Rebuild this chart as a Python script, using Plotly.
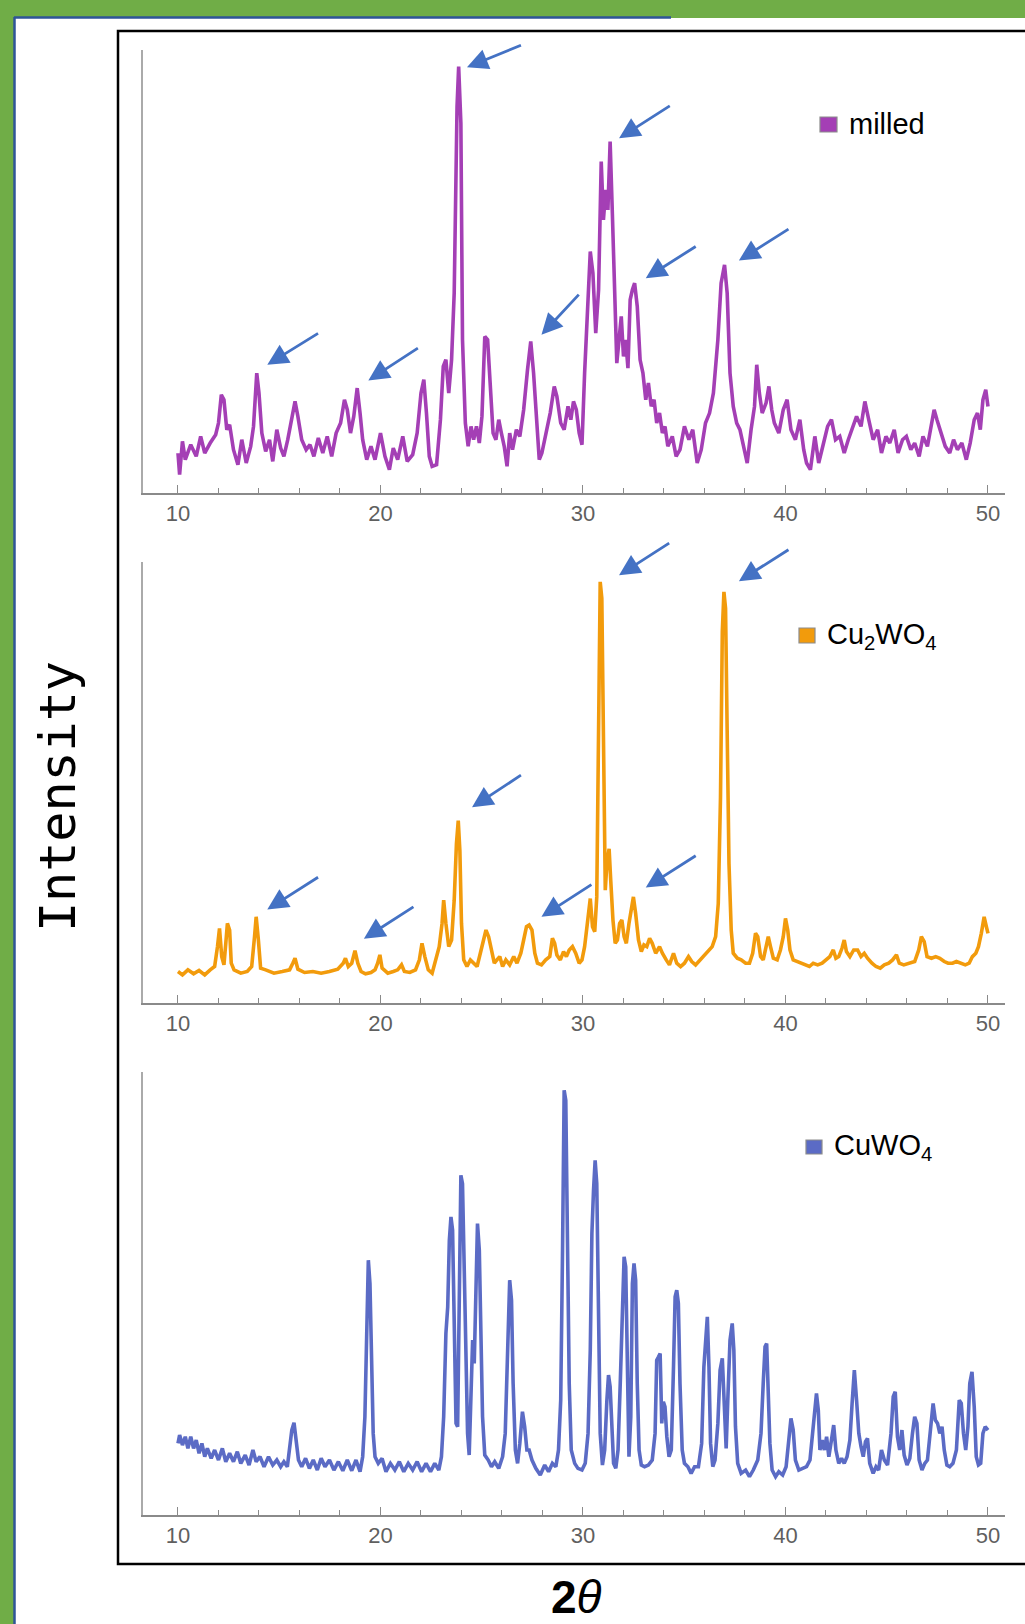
import plotly.graph_objects as go

# ---------------- data (2θ in degrees, intensity in arbitrary units) ----------------
milled_points = [
    (10.00, 12), (10.08, 5.5), (10.22, 15.5), (10.36, 10), (10.63, 14.5), (10.90, 11), (11.12, 17), (11.32, 12),
    (11.59, 15), (11.86, 17.5), (12.00, 21), (12.14, 29.5), (12.27, 28), (12.41, 19), (12.55, 20.5), (12.74, 13),
    (12.96, 8.5), (13.15, 16), (13.37, 9), (13.59, 14), (13.73, 20), (13.89, 36), (14.00, 30), (14.14, 18),
    (14.33, 12.5), (14.52, 16), (14.68, 9.5), (14.88, 19), (15.07, 13.5), (15.23, 11), (15.42, 16), (15.62, 22),
    (15.78, 27.5), (15.92, 23), (16.11, 16), (16.33, 13), (16.52, 14.5), (16.71, 11), (16.93, 16.5), (17.15, 12),
    (17.37, 17), (17.59, 11), (17.81, 18), (18.03, 21), (18.22, 28), (18.36, 25), (18.52, 18), (18.68, 23),
    (18.85, 31.5), (18.99, 24), (19.12, 16), (19.32, 10), (19.53, 14), (19.73, 10), (20.00, 18), (20.22, 11),
    (20.44, 7), (20.63, 13.5), (20.85, 10), (21.10, 17), (21.32, 9.5), (21.59, 11.5), (21.81, 18), (22.00, 30),
    (22.14, 34), (22.27, 24), (22.41, 11), (22.55, 8), (22.77, 8.5), (22.96, 22), (23.10, 38), (23.23, 40),
    (23.37, 30), (23.51, 40), (23.64, 60), (23.78, 116), (23.86, 128), (23.97, 111), (24.05, 46), (24.19, 21),
    (24.33, 14), (24.47, 20), (24.60, 16), (24.74, 20), (24.88, 15), (25.01, 23), (25.15, 47), (25.29, 46),
    (25.42, 31), (25.56, 18), (25.70, 16), (25.84, 22), (25.97, 18), (26.11, 14), (26.25, 8), (26.38, 18),
    (26.52, 13), (26.71, 19), (26.88, 17), (27.07, 25), (27.26, 37), (27.42, 45.5), (27.56, 36), (27.70, 23),
    (27.84, 10), (27.97, 12), (28.16, 18), (28.38, 24), (28.58, 32), (28.71, 29), (28.90, 21), (29.07, 19),
    (29.26, 26), (29.40, 22), (29.53, 27.5), (29.67, 25), (29.81, 18), (29.95, 14.5), (30.08, 36), (30.22, 56),
    (30.36, 72.5), (30.49, 66), (30.63, 48), (30.77, 61), (30.90, 99.5), (31.01, 82), (31.12, 91), (31.23, 85),
    (31.34, 105.5), (31.45, 84), (31.59, 56), (31.67, 39), (31.78, 46), (31.89, 53), (32.00, 41), (32.11, 46),
    (32.22, 37.5), (32.33, 58), (32.44, 61), (32.55, 63), (32.68, 56), (32.82, 40), (32.96, 36), (33.10, 28),
    (33.23, 33), (33.37, 26), (33.51, 28), (33.64, 21), (33.78, 24), (33.92, 18), (34.05, 20), (34.19, 14),
    (34.41, 17), (34.60, 11), (34.79, 13), (35.01, 20), (35.23, 16), (35.42, 19), (35.64, 9), (35.84, 13),
    (36.05, 21), (36.25, 24), (36.44, 30), (36.66, 46), (36.82, 63), (36.99, 68.5), (37.12, 60), (37.26, 36),
    (37.42, 26), (37.59, 21), (37.75, 19), (37.95, 14), (38.11, 9), (38.30, 19), (38.47, 26), (38.58, 38.5),
    (38.71, 30), (38.85, 24), (39.04, 27), (39.18, 32), (39.32, 25), (39.45, 21), (39.67, 18), (39.89, 25),
    (40.08, 28), (40.27, 19), (40.49, 16), (40.71, 22), (40.90, 13), (41.04, 9), (41.23, 7), (41.45, 17),
    (41.64, 9), (41.86, 14.5), (42.08, 20), (42.27, 22), (42.47, 16), (42.68, 17), (42.90, 12), (43.10, 16),
    (43.32, 20), (43.51, 23), (43.73, 20), (43.92, 27.5), (44.11, 22), (44.33, 16), (44.55, 19), (44.74, 12),
    (44.96, 17), (45.15, 15), (45.37, 19), (45.56, 12), (45.78, 16), (45.97, 17), (46.19, 13), (46.38, 15),
    (46.60, 11), (46.79, 17), (47.01, 14), (47.21, 20), (47.34, 25), (47.48, 22), (47.67, 18), (47.89, 14),
    (48.11, 12), (48.30, 16), (48.49, 13), (48.71, 15), (48.93, 10), (49.12, 15), (49.32, 22), (49.48, 24),
    (49.62, 19), (49.75, 28), (49.89, 31), (50.00, 26),
]

cu2wo4_points = [
    (10.00, 9.5), (10.22, 8.5), (10.49, 10), (10.77, 8.8), (11.04, 9.8), (11.32, 8.5), (11.59, 10), (11.81, 11),
    (11.95, 17), (12.05, 22.5), (12.16, 14), (12.27, 11.5), (12.36, 18), (12.44, 24), (12.55, 22), (12.63, 12),
    (12.77, 10), (13.10, 9), (13.42, 9.5), (13.64, 11), (13.78, 20), (13.86, 26), (13.97, 19), (14.08, 10.5),
    (14.33, 10), (14.74, 9), (15.15, 9.5), (15.51, 10), (15.67, 12), (15.78, 13.5), (15.92, 10.2), (16.25, 9.2),
    (16.66, 9.5), (17.07, 9), (17.48, 9.5), (17.89, 10.2), (18.16, 12), (18.27, 13.5), (18.41, 11), (18.58, 12),
    (18.74, 15.8), (18.88, 12), (19.04, 9.5), (19.26, 8.8), (19.53, 9.2), (19.73, 10), (19.86, 12), (19.97, 14.5),
    (20.08, 10.5), (20.36, 9), (20.63, 9.5), (20.85, 10), (21.04, 11.5), (21.18, 9.5), (21.45, 9.2), (21.73, 10),
    (21.92, 13), (22.05, 18), (22.19, 14), (22.36, 10), (22.55, 9), (22.74, 13), (22.90, 17), (23.04, 24),
    (23.12, 31), (23.23, 24), (23.37, 17), (23.51, 19), (23.64, 31), (23.75, 48), (23.84, 55), (23.92, 46),
    (24.00, 24), (24.11, 13), (24.27, 11), (24.44, 13), (24.60, 12), (24.77, 11), (24.93, 15), (25.07, 19),
    (25.21, 22), (25.34, 20), (25.48, 16), (25.62, 12), (25.75, 13), (25.89, 14), (26.03, 11), (26.19, 13),
    (26.38, 11.5), (26.58, 14), (26.74, 12), (26.93, 15), (27.07, 19), (27.21, 23), (27.34, 23.5), (27.48, 22),
    (27.62, 15), (27.75, 12), (27.95, 11.5), (28.16, 13), (28.36, 14), (28.49, 19.5), (28.60, 18), (28.71, 14.5),
    (28.88, 13), (29.04, 15.5), (29.18, 14), (29.32, 16), (29.48, 17), (29.64, 15), (29.81, 12), (29.95, 13),
    (30.08, 17), (30.22, 24), (30.36, 31.5), (30.47, 23), (30.58, 21.5), (30.68, 32), (30.77, 72), (30.85, 127),
    (30.93, 122), (31.01, 72), (31.10, 34), (31.18, 42), (31.29, 46.5), (31.37, 37), (31.48, 25), (31.59, 18),
    (31.70, 19), (31.81, 24), (31.92, 25), (32.03, 20), (32.14, 18), (32.27, 24), (32.41, 30), (32.49, 32),
    (32.60, 27), (32.74, 19), (32.88, 15.5), (33.01, 17.5), (33.15, 17), (33.29, 19.5), (33.42, 18), (33.59, 15),
    (33.78, 17), (33.92, 15), (34.11, 13), (34.27, 11.5), (34.47, 15), (34.63, 12), (34.82, 11), (35.01, 12),
    (35.21, 14), (35.37, 12.5), (35.56, 11.5), (35.78, 13), (35.97, 14.5), (36.16, 15.5), (36.38, 17), (36.55, 20),
    (36.68, 30), (36.79, 62), (36.88, 112), (36.96, 124), (37.04, 119), (37.12, 82), (37.21, 42), (37.32, 22),
    (37.42, 15), (37.62, 13.5), (37.81, 13), (38.03, 12), (38.22, 12), (38.38, 15), (38.52, 21), (38.63, 20),
    (38.77, 14), (38.90, 13), (39.04, 17), (39.15, 20), (39.26, 17), (39.40, 13.5), (39.59, 13), (39.75, 16),
    (39.89, 20), (40.00, 25.5), (40.11, 22), (40.22, 16), (40.38, 13), (40.58, 12.5), (40.77, 12), (40.96, 11.5),
    (41.18, 11), (41.37, 12), (41.59, 11.5), (41.81, 12), (42.00, 13), (42.19, 14), (42.36, 16), (42.49, 13.5),
    (42.63, 14), (42.79, 16.5), (42.90, 19), (43.01, 15.5), (43.18, 14), (43.37, 16), (43.56, 16), (43.73, 14),
    (43.89, 15), (44.05, 13.5), (44.27, 12), (44.47, 11), (44.68, 10.5), (44.88, 11.5), (45.10, 12), (45.29, 13),
    (45.48, 14.5), (45.62, 12), (45.84, 11.5), (46.11, 12), (46.38, 12.5), (46.58, 16), (46.71, 20), (46.85, 18.5),
    (46.99, 14), (47.21, 13.5), (47.42, 14), (47.62, 13.5), (47.84, 12.5), (48.03, 12), (48.25, 12), (48.44, 12.5),
    (48.66, 12), (48.88, 11.5), (49.07, 12), (49.23, 14), (49.40, 15), (49.53, 17), (49.67, 21), (49.81, 26),
    (49.92, 23), (50.00, 21),
]

cuwo4_points = [
    (10.00, 21.5), (10.08, 24), (10.22, 21), (10.36, 23.5), (10.49, 20), (10.63, 23.5), (10.77, 20), (10.90, 22.5),
    (11.04, 18.5), (11.18, 21.5), (11.32, 17.5), (11.45, 20), (11.64, 17), (11.81, 19.5), (12.00, 16.5), (12.19, 20),
    (12.36, 16), (12.55, 18.5), (12.74, 16), (12.93, 19), (13.10, 15.5), (13.32, 18), (13.51, 15), (13.70, 19.5),
    (13.86, 16), (14.05, 17.5), (14.25, 14.5), (14.47, 17.5), (14.68, 15), (14.88, 16.5), (15.07, 14.5), (15.23, 16),
    (15.40, 14.5), (15.51, 19.5), (15.62, 25.5), (15.73, 27.7), (15.84, 22.5), (15.95, 16.5), (16.11, 14.5), (16.30, 17),
    (16.49, 14), (16.68, 16.5), (16.88, 13.5), (17.07, 17), (17.26, 14.5), (17.48, 16.5), (17.70, 13.5), (17.92, 16),
    (18.14, 13.3), (18.36, 16.5), (18.58, 13.3), (18.79, 16.5), (18.99, 13), (19.12, 17.5), (19.23, 29.5), (19.32, 54.5),
    (19.40, 76.5), (19.48, 69.5), (19.56, 43.5), (19.64, 24.5), (19.73, 17.5), (19.89, 15.5), (20.08, 17), (20.27, 13),
    (20.49, 15.5), (20.71, 13.5), (20.93, 16), (21.15, 13), (21.37, 15.5), (21.59, 13.5), (21.81, 16), (22.03, 13),
    (22.25, 15.5), (22.47, 13), (22.68, 15.5), (22.88, 13.5), (23.01, 17.5), (23.12, 29.5), (23.23, 54.5), (23.32, 62.5),
    (23.40, 82.5), (23.48, 89.5), (23.56, 85.5), (23.64, 54.5), (23.73, 27.5), (23.81, 26.5), (23.89, 69.5), (23.97, 102),
    (24.05, 99.5), (24.14, 69.5), (24.22, 39.5), (24.30, 24.5), (24.38, 18), (24.47, 39.5), (24.55, 52.5), (24.63, 45.5),
    (24.71, 69.5), (24.79, 87.5), (24.88, 79.5), (24.96, 51.5), (25.04, 29.5), (25.15, 18), (25.32, 16.5), (25.48, 14.5),
    (25.64, 16), (25.84, 14), (26.03, 17.5), (26.16, 24.5), (26.27, 49.5), (26.38, 70.5), (26.47, 64.5), (26.55, 39.5),
    (26.66, 19.5), (26.77, 15.5), (26.88, 21.5), (27.01, 31), (27.12, 26.5), (27.23, 19.5), (27.34, 19.5), (27.48, 16.5),
    (27.67, 14), (27.89, 12), (28.11, 15), (28.30, 13), (28.49, 15.5), (28.66, 14.5), (28.79, 19.5), (28.90, 34.5),
    (28.99, 79.5), (29.07, 127.5), (29.15, 124.5), (29.23, 79.5), (29.32, 39.5), (29.42, 19.5), (29.59, 15.5), (29.75, 14),
    (29.95, 13.5), (30.11, 15.5), (30.25, 24.5), (30.36, 49.5), (30.44, 84.5), (30.52, 97.5), (30.60, 106.5), (30.68, 99.5),
    (30.77, 54.5), (30.85, 24.5), (30.96, 15), (31.07, 19.5), (31.18, 34.5), (31.26, 42), (31.34, 38.5), (31.42, 24.5),
    (31.51, 15.5), (31.62, 14), (31.73, 19.5), (31.84, 39.5), (31.95, 64.5), (32.03, 77.5), (32.11, 74.5), (32.19, 49.5),
    (32.27, 17.5), (32.36, 29.5), (32.44, 69.5), (32.52, 75.5), (32.60, 70.5), (32.68, 39.5), (32.77, 19.5), (32.88, 15),
    (33.04, 14.5), (33.23, 15), (33.42, 16.5), (33.56, 24.5), (33.64, 46.5), (33.73, 47.5), (33.81, 48.5), (33.89, 27.5),
    (33.97, 34), (34.05, 32.5), (34.14, 23.5), (34.25, 17.5), (34.36, 19.5), (34.47, 44.5), (34.55, 65.5), (34.63, 67.5),
    (34.71, 63.5), (34.79, 39.5), (34.90, 19.5), (35.01, 15.5), (35.18, 14.5), (35.34, 12.5), (35.51, 14.5), (35.70, 14.5),
    (35.86, 21.5), (35.97, 44.5), (36.05, 53.5), (36.14, 59.5), (36.22, 44.5), (36.30, 21.5), (36.41, 14.5), (36.52, 16.5),
    (36.66, 27.5), (36.77, 43.5), (36.88, 47), (36.96, 33.5), (37.07, 20), (37.15, 34.5), (37.26, 52.5), (37.37, 57.5),
    (37.45, 49.5), (37.53, 26.5), (37.64, 15.5), (37.81, 12.5), (38.03, 13.5), (38.22, 11.5), (38.41, 13.5), (38.63, 16.5),
    (38.79, 24.5), (38.90, 39.5), (38.99, 50.5), (39.07, 51.5), (39.15, 39.5), (39.23, 21.5), (39.34, 13.5), (39.51, 11.5),
    (39.67, 13), (39.86, 12), (40.03, 14.5), (40.16, 23.5), (40.27, 29), (40.38, 25.5), (40.49, 16.5), (40.66, 13.5),
    (40.88, 14), (41.04, 14.5), (41.21, 16.5), (41.34, 24.5), (41.45, 33.5), (41.53, 36.5), (41.62, 31.5), (41.70, 19.5),
    (41.81, 22.5), (41.92, 19.5), (42.03, 23.5), (42.14, 17.5), (42.27, 22.5), (42.38, 27), (42.49, 19.5), (42.63, 15.5),
    (42.77, 17), (42.90, 15.5), (43.04, 17.5), (43.18, 22.5), (43.29, 33.5), (43.40, 43.5), (43.51, 34.5), (43.62, 24.5),
    (43.73, 20.5), (43.84, 17.5), (43.95, 22), (44.05, 23), (44.16, 15.5), (44.33, 12.5), (44.47, 14.5), (44.60, 13.5),
    (44.74, 19.5), (44.88, 16.5), (45.04, 15), (45.21, 24.5), (45.32, 35.5), (45.42, 37), (45.53, 23.5), (45.64, 19.5),
    (45.75, 25.5), (45.86, 18), (46.00, 15), (46.14, 17), (46.27, 24.5), (46.38, 29.5), (46.49, 27.5), (46.60, 16.5),
    (46.74, 13.5), (46.88, 15.5), (47.01, 16.5), (47.15, 25.5), (47.29, 33.5), (47.40, 28.5), (47.51, 27.5), (47.62, 24.5),
    (47.73, 26.5), (47.84, 19.5), (47.97, 15), (48.11, 14.5), (48.27, 15.5), (48.44, 19.5), (48.58, 34.5), (48.68, 33.5),
    (48.79, 24.5), (48.90, 19.5), (49.01, 26.5), (49.10, 39.5), (49.21, 43), (49.32, 32.5), (49.42, 17.5), (49.53, 15),
    (49.64, 15.5), (49.75, 24.5), (49.86, 26.5), (50.00, 25.5),
]

# peak-marker arrows: (head 2θ, head intensity, tail 2θ, tail intensity)
milled_arrows = [
    (14.41, 38.5, 16.99, 48.2), (19.40, 33.8, 21.92, 43.8), (24.27, 127.8, 27.01, 134.6),
    (27.95, 47.5, 29.86, 60.0), (31.78, 106.5, 34.36, 116.5), (33.10, 64.5, 35.64, 74.3),
    (37.70, 69.8, 40.22, 79.5),
]
cu2wo4_arrows = [
    (14.41, 28.2, 16.99, 38.2), (19.18, 19.4, 21.70, 29.3), (24.52, 59.0, 27.01, 69.0),
    (27.95, 26.0, 30.49, 36.0), (31.78, 129.0, 34.33, 139.0), (33.10, 34.8, 35.64, 44.7),
    (37.70, 127.2, 40.22, 137.0),
]

series_names = ["milled", "Cu<sub>2</sub>WO<sub>4</sub>", "CuWO<sub>4</sub>"]
series_colors = ["#A43FB5", "#F29B0C", "#5B6BC5"]
x_tick_values = [10, 20, 30, 40, 50]
x_axis_title = "<b>2</b><i>θ</i>"
y_axis_title = "Intensity"

# ---------------- figure ----------------
W, H = 1025, 1624


def px(x):
    return x / W


def py(y):
    return 1 - y / H


fig = go.Figure()

panels = [
    (milled_points, milled_arrows, (50, 493)),
    (cu2wo4_points, cu2wo4_arrows, (562, 1003)),
    (cuwo4_points, [], (1072, 1515)),
]

annotations = []
layout_axes = {}
for i, (pts, arrows, (top, bot)) in enumerate(panels):
    n = "" if i == 0 else str(i + 1)
    xs = [p[0] for p in pts]
    ys = [p[1] for p in pts]
    fig.add_trace(go.Scatter(
        x=xs, y=ys, mode="lines", xaxis="x" + n, yaxis="y" + n,
        line=dict(color=series_colors[i], width=3.6), showlegend=False, hoverinfo="skip",
    ))
    layout_axes["xaxis" + n] = dict(
        domain=[px(143), px(1005)], anchor="y" + n, range=[8.272, 50.84],
        tickvals=x_tick_values, ticks="inside", ticklen=8, tickwidth=1.3, tickcolor="#8a8a8a",
        showline=True, linecolor="#8a8a8a", linewidth=1.5, showgrid=False, zeroline=False,
        tickfont=dict(family="Liberation Sans, Arial", size=22, color="#5f5f5f"),
        minor=dict(dtick=2, tick0=10, ticks="inside", ticklen=5, tickwidth=1.2, tickcolor="#8a8a8a", showgrid=False),
        fixedrange=True,
    )
    layout_axes["yaxis" + n] = dict(
        domain=[py(bot), py(top)], anchor="x" + n, range=[0, 133],
        showline=True, linecolor="#aaaaaa", linewidth=1.5, showticklabels=False, ticks="",
        showgrid=False, zeroline=False, fixedrange=True,
    )
    for (hx, hy, tx, ty) in arrows:
        annotations.append(dict(
            x=hx, y=hy, ax=tx, ay=ty, xref="x" + n, yref="y" + n, axref="x" + n, ayref="y" + n,
            text="", showarrow=True, arrowhead=2, arrowsize=1.5, arrowwidth=2.8, arrowcolor="#4472C4",
            standoff=0, startstandoff=0,
        ))

# legends (square swatch + label)
legend_specs = [
    ((820, 117, 837, 132), 847, 124),
    ((799, 628, 815, 643), 825, 636),
    ((806, 1140, 822, 1154), 832, 1147),
]
shapes = [
    # white sheet with blue edge
    dict(type="rect", xref="paper", yref="paper", x0=px(15), x1=px(1040), y0=py(1640), y1=py(18),
         fillcolor="white", line=dict(width=0), layer="below"),
    dict(type="line", xref="paper", yref="paper", x0=px(14.5), x1=px(14.5), y0=py(17), y1=py(1640),
         line=dict(color="#2F5597", width=2.5), layer="below"),
    dict(type="line", xref="paper", yref="paper", x0=px(14), x1=px(671), y0=py(17.5), y1=py(17.5),
         line=dict(color="#2F5597", width=2.5), layer="below"),
    # black frame
    dict(type="rect", xref="paper", yref="paper", x0=px(118), x1=px(1040), y0=py(1564), y1=py(31),
         fillcolor="rgba(0,0,0,0)", line=dict(color="black", width=2.5), layer="below"),
]
for i, ((x0, y0, x1, y1), tx, ty) in enumerate(legend_specs):
    shapes.append(dict(type="rect", xref="paper", yref="paper", x0=px(x0), x1=px(x1), y0=py(y1), y1=py(y0),
                       fillcolor=series_colors[i], line=dict(color="#8c8c8c", width=1.2)))
    annotations.append(dict(x=px(tx), y=py(ty), xref="paper", yref="paper", text=series_names[i],
                            showarrow=False, xanchor="left", yanchor="middle",
                            font=dict(family="Liberation Sans, Arial", size=29, color="black")))

annotations.append(dict(x=px(58), y=py(797), xref="paper", yref="paper", text=y_axis_title, showarrow=False,
                        textangle=-90, xanchor="center", yanchor="middle",
                        font=dict(family="DejaVu Sans Mono", size=50, color="black")))
annotations.append(dict(x=px(576), y=py(1597), xref="paper", yref="paper", text=x_axis_title, showarrow=False,
                        xanchor="center", yanchor="middle",
                        font=dict(family="Liberation Sans, Arial", size=46, color="black")))

fig.update_layout(
    width=W, height=H, margin=dict(l=0, r=0, t=0, b=0, pad=0), autosize=False,
    paper_bgcolor="#70AD47", plot_bgcolor="rgba(0,0,0,0)",
    shapes=shapes, annotations=annotations, showlegend=False,
    **layout_axes,
)

fig.write_html("out.html", config={"displayModeBar": False},
               post_script="document.body.style.margin='0';document.body.style.overflow='hidden';")
